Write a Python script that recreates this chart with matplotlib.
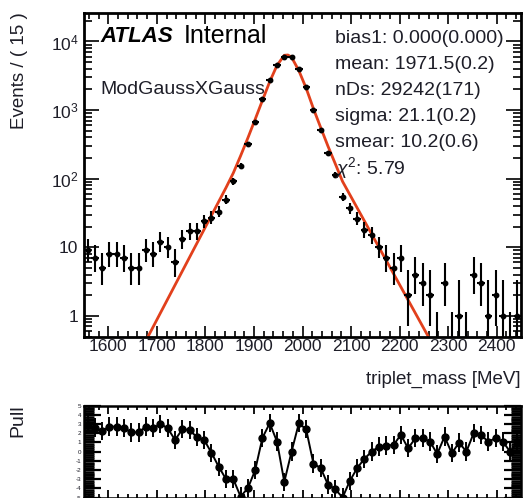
import numpy as np
import matplotlib
matplotlib.use('Agg')
import matplotlib.pyplot as plt
from matplotlib.ticker import MultipleLocator, FixedLocator, FixedFormatter, LogLocator, NullFormatter

plt.rcParams['font.family'] = ['Liberation Sans', 'DejaVu Sans']
plt.rcParams['mathtext.fontset'] = 'custom'
plt.rcParams['mathtext.rm'] = 'Liberation Sans'
plt.rcParams['mathtext.it'] = 'Liberation Sans:italic'

# triplet mass histogram, 60 bins of 15 MeV from 1550 to 2450
bin_lo, bin_w, n_bins = 1550.0, 15.0, 60
counts = [9, 7, 5, 8, 8, 7, 5, 5, 9, 8,
          12, 10, 6, 13, 17, 17, 24, 27, 33, 49,
          91, 154, 318, 680, 1442, 2755, 4560, 6030, 5900, 3950,
          2200, 1007, 514, 240, 112, 54, 37, 26, 18, 15,
          10, 7, 5, 7, 2, 4, 3, 2, 0, 3,
          0, 1, 0, 4, 3, 1, 2, 1, 0, 1]

# fitted ModGaussXGauss curve
fit_x = [1682, 1842.5, 1857.5, 1872.5, 1887.5, 1902.5, 1917.5, 1932.5, 1947.5,
         1962.5, 1970, 1977.5, 1992.5, 2007.5, 2022.5, 2037.5, 2052.5, 2067.5,
         2082.5, 2259]
fit_y = [0.5, 74, 121, 215, 392, 733, 1385, 2592, 4486,
         6286, 6350, 5900, 3755, 2087, 1049, 555, 297, 165,
         91, 0.5]

# pulls per bin
pulls = [2.9, 2.61, 2.25, 2.72, 2.72, 2.54, 2.1, 2.1, 2.72, 2.54,
         3.01, 2.54, 1.27, 2.43, 2.36, 1.56, 1.27, -0.13, -1.65, -3.0,
         -3.0, -4.9, -3.98, -2.03, 1.5, 3.09, 1.09, -3.3, 0.0, 3.09,
         2.43, -1.3, -1.8, -3.6, -4.1, -5.0, -3.2, -1.8, -0.78, 0.0,
         0.54, 0.65, 0.73, 1.82, 0.37, 1.45, 1.45, 1.09, -0.25, 1.63,
         -0.17, 0.98, 0.0, 2.0, 1.82, 1.09, 1.45, 1.09, 0.0, 1.0]

fit_pars = ['bias1: 0.000(0.000)', 'mean: 1971.5(0.2)', 'nDs: 29242(171)',
            'sigma: 21.1(0.2)', 'smear: 10.2(0.6)', r'$\chi^2$: 5.79']

centers = bin_lo + bin_w * (np.arange(n_bins) + 0.5)
counts = np.array(counts, dtype=float)

# poisson 68% intervals (Wilson-Hilferty approx), zero bins get 1.148 up
lo = np.where(counts > 0,
              counts * (1 - 1 / (9 * np.maximum(counts, 1)) - 1 / (3 * np.sqrt(np.maximum(counts, 1)))) ** 3,
              0)
hi = (counts + 1) * (1 - 1 / (9 * (counts + 1)) + 1 / (3 * np.sqrt(counts + 1))) ** 3
hi = np.where(counts > 0, hi, 1.148)

W, H = 523, 498
fig = plt.figure(figsize=(W / 100, H / 100), dpi=100)
ax = fig.add_axes([84 / W, 1 - 336.5 / H, 437 / W, 323.5 / H])
axp = fig.add_axes([84 / W, 1 - 497.5 / H, 437 / W, 91.8 / H])

txt_col = '#1e1e28'

# ---- main panel
ax.set_yscale('log')
ax.plot(fit_x, fit_y, color='#e2401c', lw=2.0, zorder=2)
nz = counts > 0
ax.errorbar(centers[nz], counts[nz], xerr=bin_w / 2,
            yerr=[counts[nz] - lo[nz], hi[nz] - counts[nz]],
            fmt='o', ms=3.2, color='black', elinewidth=1.5, capsize=0, zorder=3)
ax.vlines(centers[~nz], 0.3, hi[~nz], color='black', lw=1.5, zorder=3)

ax.set_xlim(1550, 2450)
ax.set_ylim(0.5, 2.6e4)
ax.xaxis.set_major_locator(MultipleLocator(100))
ax.xaxis.set_minor_locator(MultipleLocator(20))
ax.yaxis.set_major_locator(FixedLocator([1, 10, 100, 1000, 10000]))
ax.yaxis.set_major_formatter(FixedFormatter(['1', '10', '$10^2$', '$10^3$', '$10^4$']))
ax.yaxis.set_minor_locator(LogLocator(base=10, subs=np.arange(2, 10)))
ax.yaxis.set_minor_formatter(NullFormatter())
ax.tick_params(which='both', direction='in', top=True, right=True, width=1.2,
               labelsize=12.5, labelcolor=txt_col)
ax.tick_params(axis='x', which='major', length=8, pad=1.5)
ax.tick_params(axis='x', which='minor', length=4)
ax.tick_params(axis='y', which='major', length=11, pad=4)
ax.tick_params(axis='y', which='minor', length=6)
for s in ax.spines.values():
    s.set_linewidth(2.0)

fig.text(100 / W, 1 - 36 / H, 'ATLAS', fontsize=16, fontweight='bold',
         style='italic', color='black', va='center')
fig.text(184 / W, 1 - 36 / H, 'Internal', fontsize=18, color='black', va='center')
fig.text(100 / W, 1 - 90 / H, 'ModGaussXGauss', fontsize=14, color=txt_col, va='center')
for k, line in enumerate(fit_pars):
    fig.text(335 / W, 1 - (38.5 + 26 * k) / H, line, fontsize=14,
             color=txt_col, va='center')

fig.text(20 / W, 1 - 12 / H, 'Events / ( 15 )', rotation=90, fontsize=13.5,
         color=txt_col, ha='center', va='top')
fig.text(521 / W, 1 - 379 / H, 'triplet_mass [MeV]', fontsize=13.5,
         color=txt_col, ha='right', va='center')

# ---- pull panel
axp.errorbar(centers, pulls, yerr=1.0, fmt='o-', ms=5, color='black',
             lw=1.4, elinewidth=1.4, capsize=0)
axp.set_xlim(1550, 2450)
axp.set_ylim(-5, 5)
axp.xaxis.set_major_locator(MultipleLocator(100))
axp.xaxis.set_minor_locator(MultipleLocator(20))
axp.yaxis.set_minor_locator(MultipleLocator(0.2))
axp.set_yticks(np.arange(-5, 6))
axp.set_yticklabels([str(v) for v in range(-5, 6)])
axp.set_xticklabels([])
axp.tick_params(which='both', direction='in', top=True, right=True, width=1.3,
                labelsize=4.5, labelcolor=txt_col)
axp.tick_params(axis='y', which='major', length=12, width=1.6, pad=2)
axp.tick_params(axis='y', which='minor', length=7, width=1.8)
axp.tick_params(axis='x', which='major', length=6)
axp.tick_params(axis='x', which='minor', length=3)
for s in axp.spines.values():
    s.set_linewidth(1.8)

fig.text(18 / W, 1 - 421 / H, 'Pull', rotation=90, fontsize=14,
         color=txt_col, ha='center', va='center')

fig.savefig('out.png', dpi=100)
